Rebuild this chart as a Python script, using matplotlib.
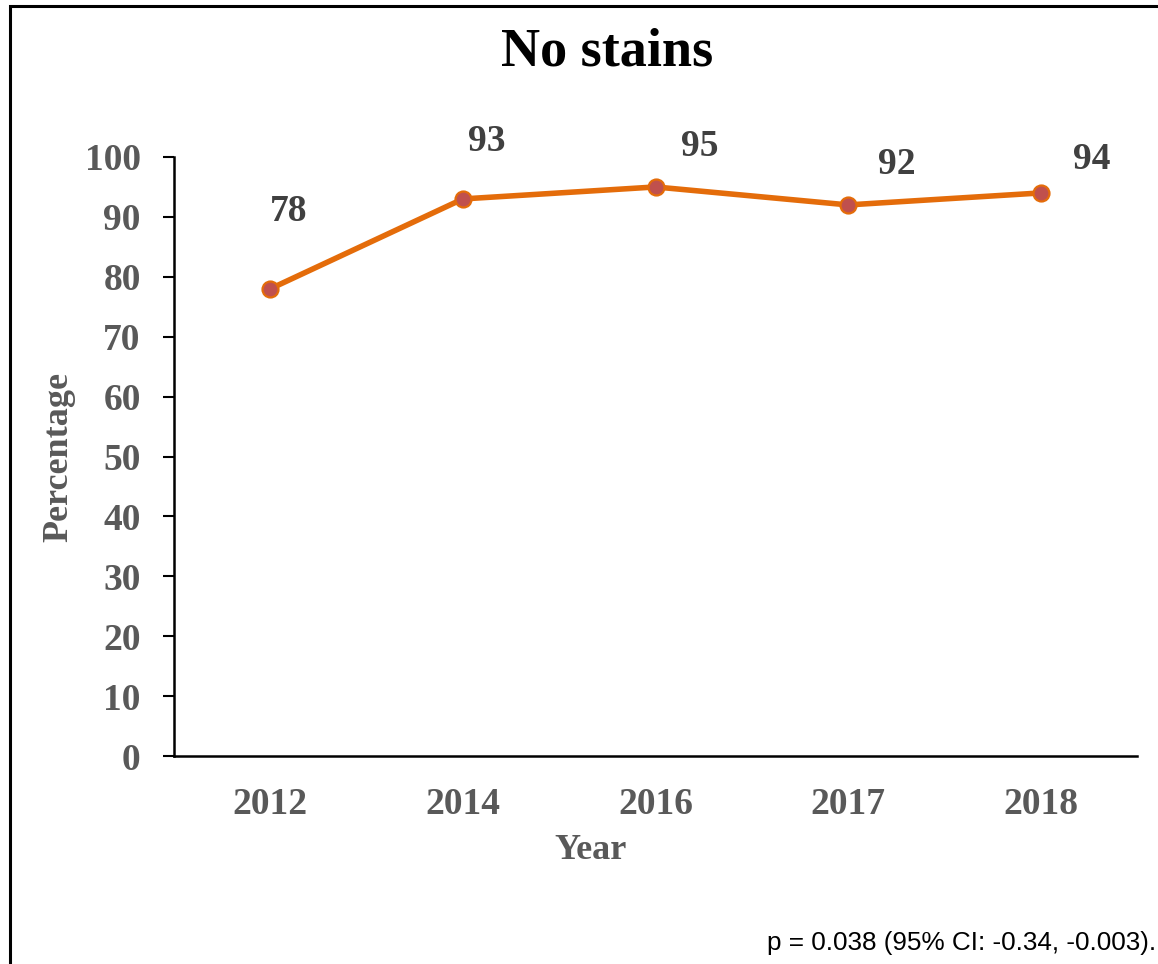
import matplotlib
matplotlib.use("Agg")
import matplotlib.pyplot as plt
from matplotlib.patches import Rectangle

years = ["2012", "2014", "2016", "2017", "2018"]
percentages = [78, 93, 95, 92, 94]
y_ticks = [0, 10, 20, 30, 40, 50, 60, 70, 80, 90, 100]

# label offsets (points) relative to each marker
label_offsets = [(13, 56), (17, 41), (32, 29), (35, 29), (37, 24)]

plt.rcParams['font.family'] = ['Liberation Serif', 'DejaVu Serif']

W, H = 1158, 964
fig = plt.figure(figsize=(W / 100, H / 100), dpi=100)
fig.patch.set_facecolor("white")

# frame around the chart area
fig.patches.append(Rectangle((10 / W, -0.05), 1.2, 1 - 6 / H + 0.05,
                             transform=fig.transFigure, fill=False,
                             edgecolor="black", linewidth=2.2))

ax = fig.add_axes([174 / W, 1 - 756 / H, (1137 - 174) / W, (756 - 157) / H])
x = list(range(len(years)))
ax.plot(x, percentages, color="#E46C0A", linewidth=4.0, marker="o",
        markersize=11.5, markerfacecolor="#C0504D",
        markeredgecolor="#E46C0A", markeredgewidth=1.6, zorder=3)

for xi, v, (dx, dy) in zip(x, percentages, label_offsets):
    ax.annotate(f"{v}", (xi, v), xytext=(dx, dy), textcoords="offset points",
                ha="center", va="center", fontsize=27, fontweight="bold",
                color="#404040")

ax.set_xlim(-0.5, len(years) - 0.5)
ax.set_ylim(0, 100)
ax.set_yticks(y_ticks)
ax.set_xticks(x)
ax.set_xticklabels(years)
ax.tick_params(axis="y", length=8, width=1.5, direction="out", pad=16,
               labelsize=27, labelcolor="#595959")
ax.tick_params(axis="x", length=0, pad=22, labelsize=27, labelcolor="#595959")
for lbl in ax.get_xticklabels() + ax.get_yticklabels():
    lbl.set_fontweight("bold")

for side in ("top", "right"):
    ax.spines[side].set_visible(False)
for side in ("left", "bottom"):
    ax.spines[side].set_linewidth(1.8)
    ax.spines[side].set_color("black")

ax.set_ylabel("Percentage", fontsize=26, fontweight="bold", color="#595959")
ax.yaxis.set_label_coords(-0.102, 0.5)
ax.set_xlabel("Year", fontsize=26, fontweight="bold", color="#595959")
ax.xaxis.set_label_coords(0.433, -0.131)

fig.text(607 / W, 1 - 53 / H, "No stains", ha="center", va="center",
         fontsize=39, fontweight="bold", color="black")

fig.text(1156 / W, 1 - 943 / H, "p = 0.038 (95% CI: -0.34, -0.003).",
         ha="right", va="center", fontsize=18.8, color="black",
         family=["Liberation Sans", "DejaVu Sans"])

fig.savefig("out.png", dpi=100, facecolor="white")
